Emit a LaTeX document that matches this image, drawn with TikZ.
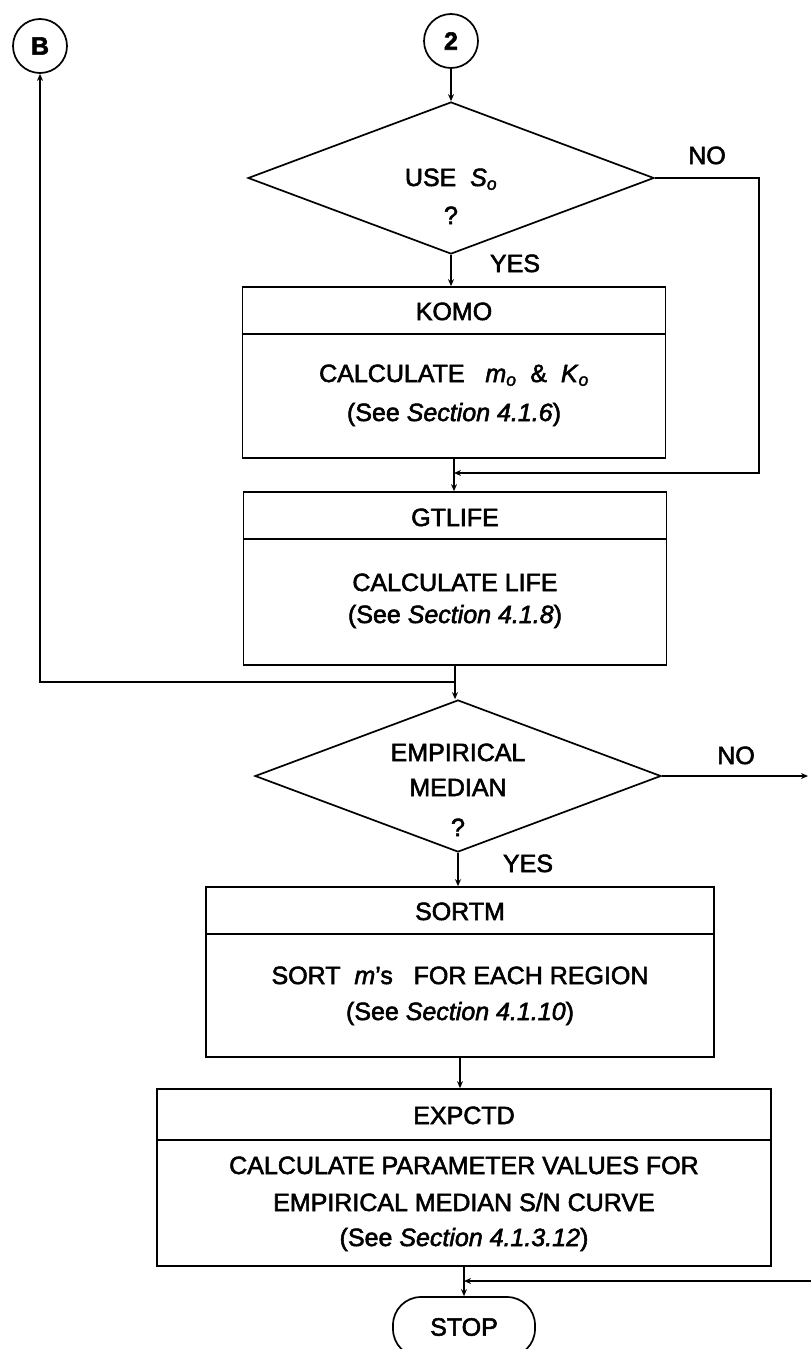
\documentclass[tikz,border=0pt]{standalone}
\usepackage{fontspec}
\setmainfont{Liberation Sans}[FakeBold=2.2,Ligatures=TeX]
\usetikzlibrary{shapes.geometric,arrows.meta}
\newcommand{\isub}[2]{\textit{#1}\textsubscript{\textit{#2}}}
\begin{document}
\begin{tikzpicture}[x=1pt,y=-1pt,
  font=\fontsize{25}{36}\selectfont,
  line width=1.7pt,
  procbox/.style={draw, rectangle, inner sep=0pt},
  decision/.style={draw, diamond, inner sep=0pt, minimum width=406pt, minimum height=152pt},
  connector/.style={draw, circle, inner sep=0pt, minimum size=54pt, font=\fontsize{25}{30}\selectfont\bfseries},
  terminal/.style={draw, rectangle, rounded corners=28pt, inner sep=0pt, minimum width=142pt, minimum height=60pt},
  lbl/.style={anchor=base, inner sep=0pt},
  arr/.style={-{Stealth[length=7pt,width=6pt]}}
]
\useasboundingbox (0,0) rectangle (811,1349);
\clip (0,0) rectangle (811,1349);

% connectors (circles)
\node[connector] (B) at (40,46) {B};
\node[connector] (c2) at (451,41) {2};

% decision 1
\node[decision] (d1) at (451,178) {};
\node[lbl] (t1) at (451,186) {USE\ \ \isub{S}{o}};
\node[lbl] (q1) at (451,224) {?};
\node[lbl] (yes1) at (515,272) {YES};
\node[lbl] (no1) at (707,164) {NO};

% KOMO
\node[procbox, minimum width=423pt, minimum height=171pt] (komo) at (454,372.5) {};
\draw ([yshift=-48pt]komo.north west) -- ([yshift=-48pt]komo.north east);
\node[lbl] (komot) at (454,320) {KOMO};
\node[lbl] (komob1) at (454,382) {CALCULATE\ \ \ \isub{m}{o}\ \ \&\ \ \isub{K}{o}};
\node[lbl] (komob2) at (454,421) {(See \textit{Section 4.1.6})};

% GTLIFE
\node[procbox, minimum width=423pt, minimum height=173pt] (gtlife) at (455,578.5) {};
\draw ([yshift=-48pt]gtlife.north west) -- ([yshift=-48pt]gtlife.north east);
\node[lbl] (gtlifet) at (455,526) {GTLIFE};
\node[lbl] (gtlifeb1) at (455,591) {CALCULATE LIFE};
\node[lbl] (gtlifeb2) at (455,623) {(See \textit{Section 4.1.8})};

% decision 2
\node[decision] (d2) at (458,776) {};
\node[lbl] (t2a) at (458,761) {EMPIRICAL};
\node[lbl] (t2b) at (458,796) {MEDIAN};
\node[lbl] (q2) at (458,836) {?};
\node[lbl] (yes2) at (528,872) {YES};
\node[lbl] (no2) at (736,764) {NO};

% SORTM
\node[procbox, minimum width=508pt, minimum height=170pt] (sortm) at (460,972) {};
\draw ([yshift=-48pt]sortm.north west) -- ([yshift=-48pt]sortm.north east);
\node[lbl] (sortmt) at (460,920) {SORTM};
\node[lbl] (sortmb1) at (460,984) {SORT\ \ \textit{m}’s\ \ \ FOR EACH REGION};
\node[lbl] (sortmb2) at (460,1020) {(See \textit{Section 4.1.10})};

% EXPCTD
\node[procbox, minimum width=614pt, minimum height=177pt] (expctd) at (464,1177.5) {};
\draw ([yshift=-52pt]expctd.north west) -- ([yshift=-52pt]expctd.north east);
\node[lbl] (expctdt) at (464,1124) {EXPCTD};
\node[lbl] (expctdb1) at (464,1174) {CALCULATE PARAMETER VALUES FOR};
\node[lbl] (expctdb2) at (464,1211) {EMPIRICAL MEDIAN S/N CURVE};
\node[lbl] (expctdb3) at (464,1246) {(See \textit{Section 4.1.3.12})};

% STOP
\node[terminal] (stop) at (464,1327) {STOP};

% helper coordinates
\coordinate (r1) at (759,178);
\coordinate (j1) at (454,473);
\coordinate (j2) at (455,682);
\coordinate (e1) at (808,776);
\coordinate (j3) at (464,1281);
\coordinate (e2) at (811,1281);

% flow lines
\draw[arr] (c2.south) -- (c2.south |- d1.north);
\draw[arr] (d1.south) -- (d1.south |- komo.north);
\draw[arr] (komo.south) -- (komo.south |- gtlife.north);
\draw[arr] (d1.east) -- (r1) |- (j1);
\draw[arr] (gtlife.south) -- (gtlife.south |- d2.north);
\draw[arr] (j2) -| (B.south);
\draw[arr] (d2.east) -- (e1);
\draw[arr] (d2.south) -- (d2.south |- sortm.north);
\draw[arr] (sortm.south) -- (sortm.south |- expctd.north);
\draw[arr] (expctd.south) -- (expctd.south |- stop.north);
\draw[arr] (e2) -- (j3);
\end{tikzpicture}
\end{document}
